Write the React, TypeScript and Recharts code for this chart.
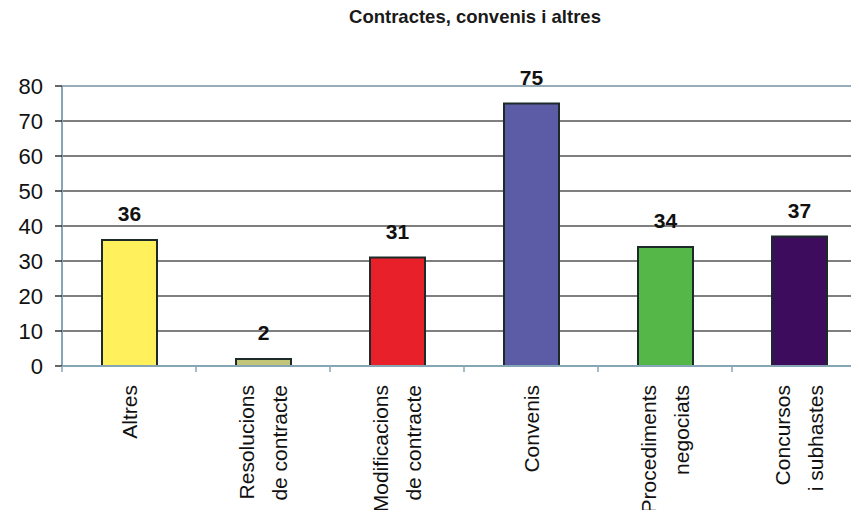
import React from 'react';
import { BarChart, Bar, XAxis, YAxis, CartesianGrid, Cell, LabelList, ReferenceLine } from 'recharts';

const categories = [
  'Altres',
  'Resolucions\nde contracte',
  'Modificacions\nde contracte',
  'Convenis',
  'Procediments\nnegociats',
  'Concursos\ni subhastes',
];
const values = [36, 2, 31, 75, 34, 37];
const barColors = ['#fff05c', '#c3c57a', '#e8202a', '#5b5ba6', '#55b748', '#3e0c5c'];
const yTicks = [0, 10, 20, 30, 40, 50, 60, 70, 80];
const title = 'Contractes, convenis i altres';

const data = categories.map((c, i) => ({ name: c, value: values[i] }));

const CHART_W = 870;
const CHART_H = 518;
const MARGIN = { top: 86, right: 4, left: 0, bottom: 0 };
const Y_W = 62;
const X_H = 152;
const PLOT_LEFT = MARGIN.left + Y_W;
const PLOT_RIGHT = CHART_W - MARGIN.right;
const PLOT_BOTTOM = CHART_H - MARGIN.bottom - X_H;
const BAND = (PLOT_RIGHT - PLOT_LEFT) / categories.length;
const FONT = '"Liberation Sans", Arial, Helvetica, sans-serif';
const AXIS_COLOR = '#86a6b6';

const XTick = (props: any) => {
  const { payload, index } = props;
  const cx = payload.coordinate;
  const lines = String(payload.value).split('\n');
  const n = lines.length;
  const spacing = 33;
  const y0 = PLOT_BOTTOM + 19;
  return (
    <g>
      <line x1={cx - BAND / 2} y1={PLOT_BOTTOM} x2={cx - BAND / 2} y2={PLOT_BOTTOM + 6} stroke={AXIS_COLOR} strokeWidth={1.5} />
      {index === categories.length - 1 && (
        <line x1={cx + BAND / 2} y1={PLOT_BOTTOM} x2={cx + BAND / 2} y2={PLOT_BOTTOM + 6} stroke={AXIS_COLOR} strokeWidth={1.5} />
      )}
      {lines.map((l, i) => {
        const lx = cx + (i - (n - 1) / 2) * spacing;
        return (
          <text
            key={i}
            x={lx}
            y={y0}
            transform={`rotate(-90 ${lx} ${y0})`}
            textAnchor="end"
            dominantBaseline="central"
            fontFamily={FONT}
            fontSize={21}
            fill="#111"
          >
            {l}
          </text>
        );
      })}
    </g>
  );
};

export default function App() {
  return (
    <div style={{ position: 'relative', width: 859, height: 518, overflow: 'hidden', margin: -8, background: '#fff' }}>
      <div
        style={{
          position: 'absolute',
          left: 475,
          top: 7,
          transform: 'translateX(-50%)',
          whiteSpace: 'nowrap',
          fontFamily: FONT,
          fontWeight: 'bold',
          fontSize: 18.5,
          lineHeight: '20px',
          color: '#1a1a1a',
        }}
      >
        {title}
      </div>
      <BarChart width={CHART_W} height={CHART_H} data={data} margin={MARGIN}>
        <CartesianGrid vertical={false} stroke="#000" strokeWidth={1.2} />
        <ReferenceLine y={80} stroke="#9cbccc" strokeWidth={1.5} />
        <YAxis
          width={Y_W}
          domain={[0, 80]}
          ticks={yTicks}
          interval={0}
          axisLine={{ stroke: AXIS_COLOR, strokeWidth: 2 }}
          tickLine={{ stroke: '#000', strokeWidth: 1.2 }}
          tickSize={7}
          tickMargin={12}
          tick={{ fontFamily: FONT, fontSize: 22, fill: '#111' }}
        />
        <XAxis
          dataKey="name"
          height={X_H}
          interval={0}
          axisLine={{ stroke: AXIS_COLOR, strokeWidth: 2 }}
          tickLine={false}
          tick={<XTick />}
        />
        <Bar dataKey="value" barSize={55} stroke="#1c2a2a" strokeWidth={2} isAnimationActive={false}>
          {data.map((d, i) => (
            <Cell key={d.name} fill={barColors[i]} />
          ))}
          <LabelList
            dataKey="value"
            position="top"
            offset={19}
            style={{ fontFamily: FONT, fontWeight: 'bold', fontSize: 21, fill: '#111' }}
          />
        </Bar>
      </BarChart>
    </div>
  );
}
